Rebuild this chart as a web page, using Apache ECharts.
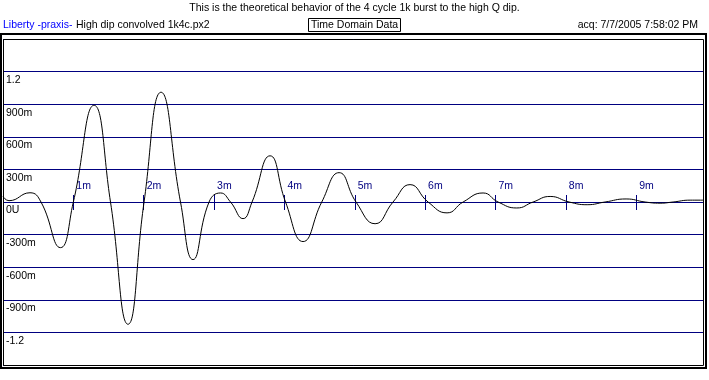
<!DOCTYPE html>
<html>
<head>
<meta charset="utf-8">
<script src="https://cdn.jsdelivr.net/npm/echarts@6/dist/echarts.min.js"></script>
<style>
html,body{margin:0;padding:0;background:#fff;}
#chart{width:709px;height:380px;}
</style>
</head>
<body>
<div id="chart"></div>
<script>
// time (ms) of read-off points: start, extrema and zero crossings
var timeMs = [0, 0.085, 0.384, 0.54, 0.817, 1.0, 1.294, 1.528, 1.777, 2.005, 2.246, 2.523, 2.701, 2.929,
  3.092, 3.234, 3.412, 3.54, 3.796, 4.016, 4.265, 4.531, 4.777, 5.018, 5.289, 5.544, 5.786, 6.042,
  6.312, 6.54, 6.824, 7.037, 7.303, 7.535, 7.777, 8.046, 8.303, 8.558, 8.857, 9.127, 9.34, 9.525, 9.767, 9.95];
// amplitude (V)
var amplitude = [0.05, 0.012, 0.085, 0, -0.42, 0, 0.89, 0, -1.125, 0, 1.01, 0, -0.53, 0,
  0.083, 0, -0.153, 0, 0.425, 0, -0.364, 0, 0.27, 0, -0.2, 0, 0.16, 0,
  -0.1, 0, 0.083, 0, -0.055, 0, 0.051, 0, -0.025, 0, 0.028, 0, -0.011, 0, 0.017, 0.017];

var xTickValues = [1, 2, 3, 4, 5, 6, 7, 8, 9];
var xTickLabels = ['1m', '2m', '3m', '4m', '5m', '6m', '7m', '8m', '9m'];
var yTickValues = [1.2, 0.9, 0.6, 0.3, 0, -0.3, -0.6, -0.9, -1.2];
var yTickLabels = ['1.2', '900m', '600m', '300m', '0U', '-300m', '-600m', '-900m', '-1.2'];

var titleText = 'This is the theoretical behavior of the 4 cycle 1k burst to the high Q dip.';
var sourceText = 'Liberty -praxis-';
var fileText = 'High dip convolved 1k4c.px2';
var modeText = 'Time Domain Data';
var acqText = 'acq: 7/7/2005 7:58:02 PM';

var NAVY = '#000080';
var FONT = 'Arial, "Liberation Sans", sans-serif';
var FS = 10.5;

var seriesData = timeMs.map(function (t, i) { return [t, amplitude[i]]; });

function lookup(vals, labels, v) {
  for (var i = 0; i < vals.length; i++) {
    if (Math.abs(vals[i] - v) < 1e-6) return labels[i];
  }
  return '';
}

var chart = echarts.init(document.getElementById('chart'), null, {renderer: 'canvas'});
var ts = {fontFamily: FONT, fontSize: FS, fontWeight: 'normal', color: '#000', lineHeight: 13};

var X_MIN = 0, X_MAX = 9.95;

chart.setOption({
  animation: false,
  backgroundColor: '#fff',
  title: [
    {text: titleText, left: 'center', top: 2, padding: 0, textStyle: ts},
    {text: sourceText, left: 3, top: 19, padding: 0, textStyle: Object.assign({}, ts, {color: '#0000ff'})},
    {text: fileText, left: 76, top: 19, padding: 0, textStyle: ts},
    {text: modeText, left: 308, top: 18, padding: [1, 3, 0, 3], borderColor: '#000', borderWidth: 1, textStyle: ts},
    {text: acqText, right: 11, top: 19, padding: 0, textStyle: ts}
  ],
  grid: [
    {left: 3, top: 39, width: 700, height: 326, containLabel: false},
    {left: 3, top: 195, width: 700, height: 15, containLabel: false}
  ],
  xAxis: [
    {
      gridIndex: 0, type: 'value', min: X_MIN, max: X_MAX, interval: 1,
      axisLine: {show: false, onZero: false}, axisTick: {show: false}, axisLabel: {show: false}, splitLine: {show: false}
    },
    {
      gridIndex: 1, type: 'value', min: X_MIN, max: X_MAX, interval: 1, position: 'top',
      axisLine: {show: false, onZero: false},
      axisTick: {show: true, inside: true, length: 15, customValues: xTickValues, lineStyle: {color: NAVY, width: 1}},
      axisLabel: {
        show: true, inside: false, margin: 3, align: 'left', verticalAlign: 'bottom',
        customValues: xTickValues, padding: [0, 0, 0, 3],
        color: NAVY, fontFamily: FONT, fontSize: FS,
        formatter: function (v) { return lookup(xTickValues, xTickLabels, v); }
      },
      splitLine: {show: false}
    }
  ],
  yAxis: [
    {
      gridIndex: 0, type: 'value', min: -1.5, max: 1.5, interval: 0.3,
      axisLine: {show: false, onZero: false},
      axisTick: {show: false},
      axisLabel: {
        show: true, inside: true, margin: 3, verticalAlign: 'top', padding: [3, 0, 0, 0],
        color: '#000', fontFamily: FONT, fontSize: FS,
        formatter: function (v) { return lookup(yTickValues, yTickLabels, v); }
      },
      splitLine: {show: true, lineStyle: {color: NAVY, width: 1}}
    },
    {
      gridIndex: 1, type: 'value', min: 0, max: 1,
      axisLine: {show: false, onZero: false}, axisTick: {show: false}, axisLabel: {show: false}, splitLine: {show: false}
    }
  ],
  series: [{
    type: 'line', xAxisIndex: 0, yAxisIndex: 0, data: seriesData, smooth: 0.5, showSymbol: false, symbol: 'none',
    lineStyle: {color: '#000', width: 1}, clip: true
  }],
  graphic: [
    {type: 'rect', z: 100, silent: true, shape: {x: 1, y: 34, width: 705, height: 334},
      style: {fill: 'none', stroke: '#000', lineWidth: 2}},
    {type: 'rect', z: 100, silent: true, shape: {x: 3.5, y: 39.5, width: 700, height: 326},
      style: {fill: 'none', stroke: '#000', lineWidth: 1}}
  ]
});
</script>
</body>
</html>
